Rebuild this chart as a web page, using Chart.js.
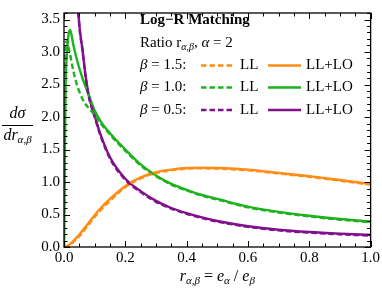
<!DOCTYPE html>
<html><head><meta charset="utf-8">
<script src="https://cdn.jsdelivr.net/npm/chart.js@4/dist/chart.umd.min.js"></script>
<style>html,body{margin:0;padding:0;background:#fff}#wrap{width:382px;height:290px;position:relative}</style>
</head><body><div id="wrap"><canvas id="c"></canvas></div>
<script>
// ---- data ----
const rGrid = [0, 0.005, 0.01, 0.015, 0.02, 0.03, 0.04, 0.05, 0.06, 0.07, 0.08, 0.1, 0.12, 0.15, 0.2, 0.25, 0.3, 0.35, 0.4, 0.45, 0.5, 0.6, 0.7, 0.8, 0.9, 1.0];
const orangeLLLO = [0, 0.005, 0.015, 0.03, 0.045, 0.09, 0.14, 0.19, 0.25, 0.31, 0.37, 0.49, 0.6, 0.74, 0.94, 1.07, 1.15, 1.19, 1.215, 1.22, 1.215, 1.19, 1.14, 1.09, 1.03, 0.97];
const orangeLL   = [0, 0.003, 0.01, 0.022, 0.035, 0.075, 0.12, 0.165, 0.22, 0.28, 0.34, 0.46, 0.57, 0.71, 0.92, 1.055, 1.14, 1.18, 1.205, 1.21, 1.205, 1.18, 1.13, 1.08, 1.02, 0.96];
const greenLLLO  = [0, 2.4, 3.0, 3.27, 3.34, 3.12, 2.92, 2.75, 2.6, 2.47, 2.35, 2.1, 1.93, 1.75, 1.5, 1.27, 1.1, 0.97, 0.88, 0.80, 0.74, 0.62, 0.54, 0.48, 0.43, 0.39];
const greenLL    = [0, 3.1, 3.17, 3.07, 2.96, 2.72, 2.53, 2.39, 2.28, 2.2, 2.14, 2.03, 1.9, 1.73, 1.48, 1.255, 1.09, 0.96, 0.87, 0.79, 0.73, 0.61, 0.53, 0.47, 0.42, 0.38];
const purpleLLLO = [null, 22, 14, 10, 8, 5.5, 4.2, 3.42, 3.05, 2.65, 2.35, 2.02, 1.72, 1.38, 1.05, 0.86, 0.71, 0.60, 0.52, 0.455, 0.40, 0.32, 0.265, 0.23, 0.205, 0.185];
const purpleLL   = [null, 21, 13.5, 9.8, 7.8, 5.4, 4.15, 3.4, 3.03, 2.63, 2.33, 2.0, 1.7, 1.36, 1.035, 0.845, 0.695, 0.59, 0.51, 0.445, 0.39, 0.31, 0.255, 0.22, 0.195, 0.175];
const betaLabels = ['1.5', '1.0', '0.5'];
const xTickValues = [0, 0.2, 0.4, 0.6, 0.8, 1.0];
const yTickValues = [0, 0.5, 1.0, 1.5, 2.0, 2.5, 3.0, 3.5];

const ORANGE = 'rgb(255,140,20)';
const GREEN = 'rgb(30,178,30)';
const PURPLE = 'rgb(128,16,140)';
const colors = [ORANGE, GREEN, PURPLE];
const SERIF = '"Liberation Serif","DejaVu Serif",serif';

function mk(label, vals, color, dashed) {
  const pts = [];
  rGrid.forEach((r, i) => { if (vals[i] !== null) pts.push({x: r, y: vals[i]}); });
  return {
    label, data: pts, borderColor: color, backgroundColor: color,
    borderWidth: 2.4, borderDash: dashed ? [5.5, 3] : [], pointRadius: 0,
    fill: false, cubicInterpolationMode: 'monotone', clip: 0, order: dashed ? 0 : 1
  };
}

function runs(ctx, x, y, parts, align) {
  // parts: [text, font, dy]
  let w = 0;
  parts.forEach(p => { ctx.font = p[1]; w += ctx.measureText(p[0]).width; });
  let cx = align === 'center' ? x - w / 2 : x;
  parts.forEach(p => {
    ctx.font = p[1];
    ctx.fillText(p[0], cx, y + (p[2] || 0));
    cx += ctx.measureText(p[0]).width;
  });
  return w;
}

const decor = {
  id: 'decor',
  afterDraw(chart) {
    const ctx = chart.ctx, a = chart.chartArea;
    const xs = chart.scales.x, ys = chart.scales.y;
    ctx.save();
    ctx.strokeStyle = '#000';
    ctx.lineWidth = 1.3;
    ctx.strokeRect(a.left, a.top, a.right - a.left, a.bottom - a.top);
    ctx.lineWidth = 1;
    ctx.beginPath();
    for (let i = 0; i <= 20; i++) {
      const v = i * 0.05;
      const px = Math.round(xs.getPixelForValue(v)) + 0.5;
      const len = (i % 4 === 0) ? 6 : 3.5;
      ctx.moveTo(px, a.bottom); ctx.lineTo(px, a.bottom - len);
      ctx.moveTo(px, a.top); ctx.lineTo(px, a.top + len);
    }
    for (let i = 0; i <= 36; i++) {
      const v = i * 0.1;
      const py = Math.round(ys.getPixelForValue(v)) + 0.5;
      const len = (i % 5 === 0) ? 6 : 3.5;
      ctx.moveTo(a.left, py); ctx.lineTo(a.left + len, py);
      ctx.moveTo(a.right, py); ctx.lineTo(a.right - len, py);
    }
    ctx.stroke();

    // legend / annotation
    ctx.fillStyle = '#000';
    ctx.textBaseline = 'middle';
    ctx.textAlign = 'left';
    const F = '15px ' + SERIF, FI = 'italic 15px ' + SERIF, FS = 'italic 10px ' + SERIF;
    ctx.font = 'bold 15px ' + SERIF;
    ctx.fillText('Log\u2212R Matching', 140, 20);
    runs(ctx, 140, 43, [['Ratio r', F], ['\u03b1,\u03b2', FS, 4], [', ', F], ['\u03b1', FI], [' = 2', F]]);
    const rowsY = [65.5, 87.5, 110];
    rowsY.forEach((y, k) => {
      ctx.fillStyle = '#000';
      runs(ctx, 140, y, [['\u03b2', FI], [' = ' + betaLabels[k] + ':', F]]);
      ctx.fillText('LL', 240, y);
      ctx.fillText('LL+LO', 306, y);
      ctx.strokeStyle = colors[k];
      ctx.lineWidth = 2.4;
      ctx.setLineDash([5.5, 3]);
      ctx.beginPath(); ctx.moveTo(201, y); ctx.lineTo(232, y); ctx.stroke();
      ctx.setLineDash([]);
      ctx.beginPath(); ctx.moveTo(268, y); ctx.lineTo(301, y); ctx.stroke();
    });

    // axis titles
    ctx.fillStyle = '#000';
    const G = '16px ' + SERIF, GI = 'italic 16px ' + SERIF, GS = 'italic 11px ' + SERIF;
    runs(ctx, (a.left + a.right) / 2, 277, [
      ['r', GI], ['\u03b1,\u03b2', GS, 4], [' = ', G], ['e', GI], ['\u03b1', GS, 4],
      [' / ', G], ['e', GI], ['\u03b2', GS, 4]
    ], 'center');
    runs(ctx, 17.5, 114, [['d\u03c3', GI]], 'center');
    ctx.strokeStyle = '#000'; ctx.lineWidth = 1;
    ctx.beginPath(); ctx.moveTo(2, 125.5); ctx.lineTo(33, 125.5); ctx.stroke();
    runs(ctx, 17.5, 136, [['dr', GI], ['\u03b1,\u03b2', GS, 4]], 'center');
    ctx.restore();
  }
};

new Chart(document.getElementById('c'), {
  type: 'line',
  data: {
    datasets: [
      mk('β = 1.5 LL+LO', orangeLLLO, ORANGE, false),
      mk('β = 1.5 LL', orangeLL, ORANGE, true),
      mk('β = 1.0 LL+LO', greenLLLO, GREEN, false),
      mk('β = 1.0 LL', greenLL, GREEN, true),
      mk('β = 0.5 LL+LO', purpleLLLO, PURPLE, false),
      mk('β = 0.5 LL', purpleLL, PURPLE, true)
    ]
  },
  options: {
    responsive: true, maintainAspectRatio: false, animation: false, devicePixelRatio: 1,
    layout: {padding: {top: 1, right: 10, left: 0, bottom: 0}},
    plugins: {legend: {display: false}, tooltip: {enabled: false}},
    scales: {
      x: {
        type: 'linear', min: 0, max: 1,
        grid: {display: false, drawTicks: false}, border: {display: false},
        afterBuildTicks: s => { s.ticks = xTickValues.map(v => ({value: v})); },
        afterFit: s => { s.height = 43; },
        ticks: {color: '#000', padding: 2, maxRotation: 0, autoSkip: false,
          font: {family: SERIF, size: 15}, callback: v => Number(v).toFixed(1)}
      },
      y: {
        type: 'linear', min: 0, max: 3.6,
        grid: {display: false, drawTicks: false}, border: {display: false},
        afterBuildTicks: s => { s.ticks = yTickValues.map(v => ({value: v})); },
        afterFit: s => { s.width = 64; },
        ticks: {color: '#000', padding: 4, autoSkip: false,
          font: {family: SERIF, size: 15}, callback: v => Number(v).toFixed(1)}
      }
    }
  },
  plugins: [decor]
});
</script></body></html>
